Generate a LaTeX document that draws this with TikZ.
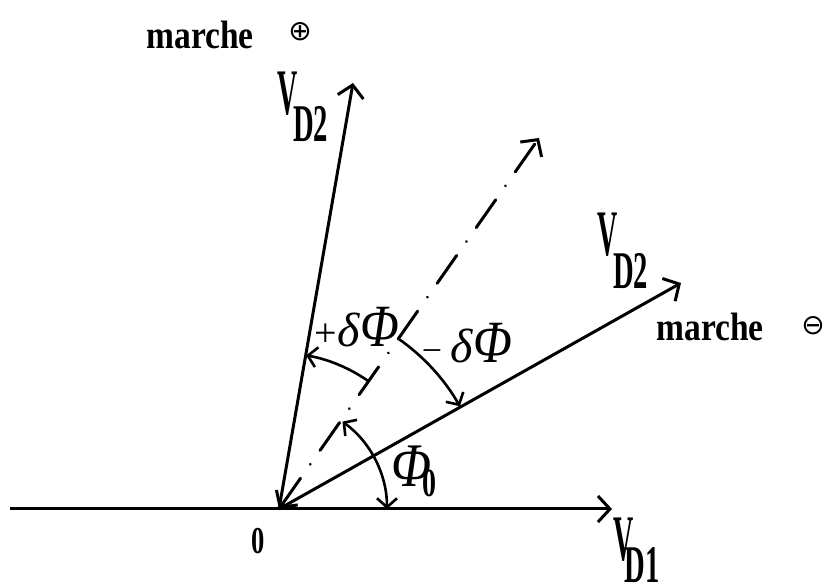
\documentclass[tikz,border=0pt]{standalone}
\usepackage{fontspec}
\setmainfont{Liberation Serif}
\newfontfamily\dvs{DejaVu Sans}
\usetikzlibrary{arrows.meta}
\begin{document}
\begin{tikzpicture}[x=1pt,y=1pt,
  vec/.style={line width=3pt, -{Straight Barb[length=12pt,width=26pt]}},
  angarc/.style={line width=2.6pt},
  lbl/.style={inner sep=0pt, font=\fontsize{36}{36}\selectfont\bfseries},
  bigv/.style={inner sep=0pt, font=\fontsize{65}{65}\selectfont\bfseries},
  sub/.style={inner sep=0pt, font=\fontsize{53}{53}\selectfont\bfseries},
  sgn/.style={inner sep=0pt, font=\fontsize{28}{28}\selectfont\dvs},
  sym/.style={inner sep=0pt, font=\fontsize{48}{48}\selectfont}
]
\useasboundingbox (0,0) rectangle (838,588);
% points
\coordinate (O) at (279,79);
\coordinate (L) at (10,79);
\coordinate (A1) at (612,79);
\coordinate (U) at (353,505);
\coordinate (D) at (539,450);
\coordinate (W) at (681,305);
% axes and vectors
\draw[vec] (L) -- (A1);
\draw[vec] (O) -- (U);
\draw[vec] (O) -- (W);
\draw[line width=3pt, line cap=round, dash pattern=on 34pt off 17pt on 0.01pt off 17pt,
  {Straight Barb[length=12pt,width=26pt]}-{Straight Barb[length=12pt,width=26pt]}] (O) -- (D);
% angle arcs
\draw[angarc, {Straight Barb[length=9pt,width=20pt]}-{Straight Barb[length=9pt,width=20pt]}]
  ([shift={(0:108)}]O) arc[start angle=0, end angle=54, radius=108];
\draw[angarc, -{Straight Barb[length=9pt,width=20pt]}]
  ([shift={(55:156)}]O) arc[start angle=55, end angle=80, radius=156];
\draw[angarc, -{Straight Barb[length=9pt,width=20pt]}]
  ([shift={(55:208)}]O) arc[start angle=55, end angle=29.6, radius=208];
% labels
\node[lbl] (m1) at (200,553) {\scalebox{0.93}[1.1]{marche}};
\node[sgn] (p1) at (300,556) {⊕};
\node[lbl] (m2) at (710,261) {\scalebox{0.93}[1.1]{marche}};
\node[sgn] (p2) at (813,262) {⊖};
\node[bigv] (vu) at (287.5,494) {\scalebox{0.43}[1]{V}};
\node[sub] (vus) at (310.5,463.5) {\scalebox{0.54}[1]{D2}};
\node[bigv] (vl) at (608,353) {\scalebox{0.43}[1]{V}};
\node[sub] (vls) at (630.5,316.5) {\scalebox{0.54}[1]{D2}};
\node[bigv] (v1) at (623.5,48) {\scalebox{0.43}[1]{V}};
\node[sub] (v1s) at (642,23) {\scalebox{0.54}[1]{D1}};
\node[inner sep=0pt, font=\fontsize{38}{38}\selectfont\bfseries] (zero) at (258.5,46.5) {\scalebox{0.7}[1]{0}};
\node[inner sep=0pt, font=\fontsize{62}{62}\selectfont] (phi0) at (412,122) {\scalebox{0.85}[1]{\itshape Φ}};
\node[inner sep=0pt, font=\fontsize{40}{40}\selectfont\bfseries] (phi0s) at (429,104.5) {\scalebox{0.7}[1]{0}};
\node[sym, anchor=center] (pd) at (357,261) {{\fontsize{40}{40}\selectfont +}\textit{δ}{\fontsize{60}{60}\selectfont\scalebox{0.85}[1]{\itshape Φ}}};
\node[sym, anchor=center] (md) at (467,245) {{\fontsize{36}{36}\selectfont −}\,\textit{δ}{\fontsize{60}{60}\selectfont\scalebox{0.85}[1]{\itshape Φ}}};
\end{tikzpicture}
\end{document}
